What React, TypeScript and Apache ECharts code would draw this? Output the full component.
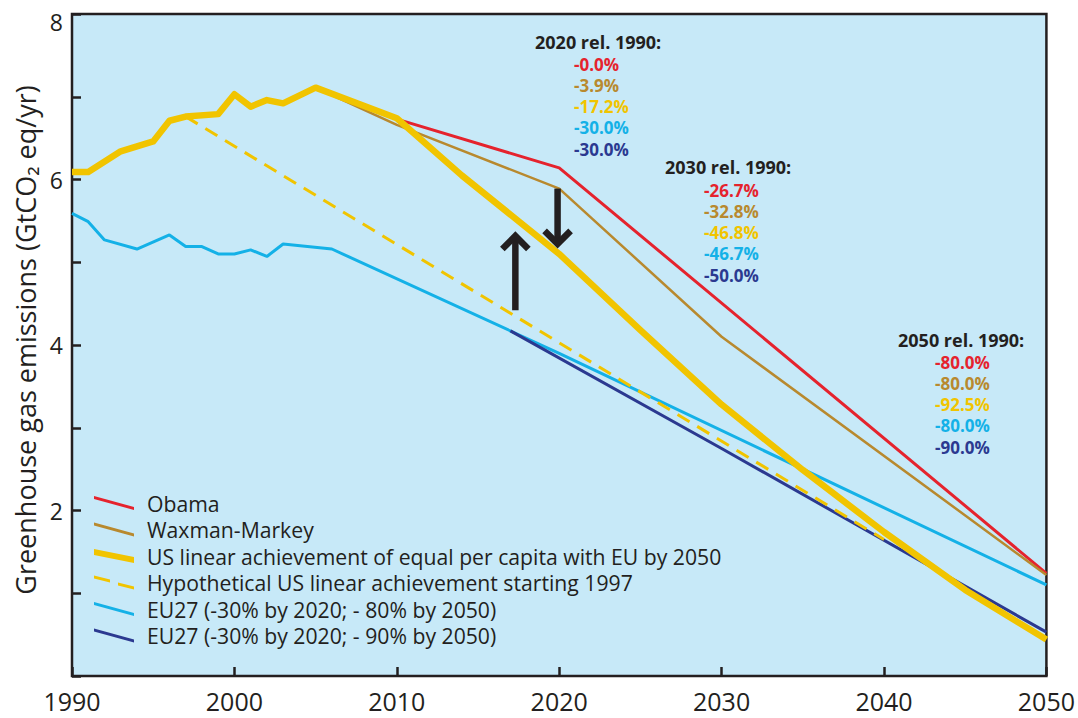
import React, { useEffect, useRef } from "react";
import * as echarts from "echarts";

// ---- data ----
const usHistYears = [1990, 1991, 1993, 1995, 1996, 1997, 1999, 2000, 2001, 2002, 2003, 2005];
const usHistValues = [6.09, 6.09, 6.34, 6.46, 6.71, 6.76, 6.79, 7.03, 6.88, 6.96, 6.92, 7.11];

const usEqualYears = [2010, 2014, 2020, 2025, 2030, 2035, 2040, 2045, 2050];
const usEqualValues = [6.74, 6.05, 5.1, 4.18, 3.28, 2.49, 1.74, 1.04, 0.44];

const obamaYears = [2005, 2010, 2020, 2050];
const obamaValues = [7.11, 6.73, 6.14, 1.24];

const waxmanYears = [2005, 2010, 2020, 2030, 2050];
const waxmanValues = [7.11, 6.66, 5.89, 4.1, 1.22];

const hypoYears = [1997, 2040];
const hypoValues = [6.76, 1.65];

const euHistYears = [1990, 1991, 1992, 1994, 1996, 1997, 1998, 1999, 2000, 2001, 2002, 2003, 2006];
const euHistValues = [5.59, 5.49, 5.27, 5.16, 5.33, 5.19, 5.19, 5.1, 5.1, 5.15, 5.07, 5.22, 5.16];

const eu80Years = [2020, 2050];
const eu80Values = [3.9, 1.1];

const eu90Years = [2017, 2030, 2050];
const eu90Values = [4.17, 2.75, 0.53];

// arrows: [year, from, to]
const arrowYears = [2017.3, 2019.9];
const arrowFrom = [4.42, 5.89];
const arrowTo = [5.33, 5.21];

const seriesNames = [
  "Obama",
  "Waxman-Markey",
  "US linear achievement of equal per capita with EU by 2050",
  "Hypothetical US linear achievement starting 1997",
  "EU27 (-30% by 2020; - 80% by 2050)",
  "EU27 (-30% by 2020; - 90% by 2050)",
];

const yAxisTitle = "Greenhouse gas emissions (GtCO\u2082 eq/yr)";
const annotationHeaders = ["2020 rel. 1990:", "2030 rel. 1990:", "2050 rel. 1990:"];
const pct2020 = ["-0.0%", "-3.9%", "-17.2%", "-30.0%", "-30.0%"];
const pct2030 = ["-26.7%", "-32.8%", "-46.8%", "-46.7%", "-50.0%"];
const pct2050 = ["-80.0%", "-80.0%", "-92.5%", "-80.0%", "-90.0%"];

const yTickLabels = [2, 4, 6, 8];

// ---- styles ----
const RED = "#e5232d";
const BROWN = "#b8892e";
const YELLOW = "#f1c400";
const LIGHTBLUE = "#14b1e7";
const DARKBLUE = "#2b3990";
const INK = "#231f20";
const BG = "#c7e9f8";
const FONT = "'Open Sans', 'Noto Sans', sans-serif";
const pctColors = [RED, BROWN, YELLOW, LIGHTBLUE, DARKBLUE];

const zip = (xs: number[], ys: number[]) => xs.map((x, i) => [x, ys[i]]);

const thinIcon = "path://M0,0 L40,11 L40,14 L0,3 Z";
const thickIcon = "path://M0,0 L40,8 L40,14 L0,6 Z";
const dashIcon = "path://M0,0 L16,4 L16,7 L0,3 Z M24,7 L40,11 L40,14 L24,10 Z";

function buildOption() {
  const blocks = [
    { hx: 535, hy: 42, vx: 574, vy: 64, vals: pct2020 },
    { hx: 665, hy: 167, vx: 704, vy: 190, vals: pct2030 },
    { hx: 898, hy: 340, vx: 935, vy: 362, vals: pct2050 },
  ];
  const graphics: any[] = [
    {
      type: "text",
      x: 25,
      y: 340,
      rotation: Math.PI / 2,
      style: {
        text: yAxisTitle,
        fill: INK,
        fontFamily: FONT,
        fontSize: 27,
        align: "center",
        verticalAlign: "middle",
      },
    },
  ];
  blocks.forEach((b, bi) => {
    graphics.push({
      type: "text",
      x: b.hx,
      y: b.hy,
      style: {
        text: annotationHeaders[bi],
        fill: INK,
        fontFamily: FONT,
        fontSize: 18,
        fontWeight: "bold",
        verticalAlign: "middle",
        align: "left",
      },
    });
    b.vals.forEach((v, i) => {
      graphics.push({
        type: "text",
        x: b.vx,
        y: b.vy + i * 21.25,
        style: {
          text: v,
          fill: pctColors[i],
          fontFamily: FONT,
          fontSize: 17,
          fontWeight: "bold",
          verticalAlign: "middle",
          align: "left",
        },
      });
    });
  });

  const lineBase = {
    type: "line",
    showSymbol: false,
    symbol: "none",
    silent: true,
    clip: true,
  };

  return {
    animation: false,
    backgroundColor: "#ffffff",
    textStyle: { fontFamily: FONT, color: INK },
    grid: {
      left: 72,
      right: 26,
      top: 14,
      bottom: 42,
      show: true,
      backgroundColor: BG,
      borderColor: INK,
      borderWidth: 2.5,
    },
    xAxis: {
      type: "value",
      min: 1990,
      max: 2050,
      interval: 10,
      axisLine: { show: false },
      axisTick: { show: true, inside: true, length: 9, lineStyle: { color: INK, width: 2.5 } },
      splitLine: { show: false },
      axisLabel: {
        color: INK,
        fontFamily: FONT,
        fontSize: 25,
        margin: 12,
        formatter: (v: number) => String(v),
      },
    },
    yAxis: {
      type: "value",
      min: 0,
      max: 8,
      interval: 1,
      axisLine: { show: false },
      axisTick: { show: true, inside: true, length: 9, lineStyle: { color: INK, width: 2.5 } },
      splitLine: { show: false },
      axisLabel: {
        color: INK,
        fontFamily: FONT,
        fontSize: 23,
        margin: 9,
        formatter: (v: number) => {
          if (yTickLabels.indexOf(v) < 0) return "";
          return v === 8 ? "{top|" + v + "}" : String(v);
        },
        rich: {
          top: { fontFamily: FONT, fontSize: 23, color: INK, padding: [16, 0, 0, 0] },
        },
      },
    },
    legend: {
      orient: "vertical",
      left: 94,
      top: 492,
      padding: 0,
      itemWidth: 40,
      itemHeight: 14,
      itemGap: 4.5,
      symbolKeepAspect: false,
      selectedMode: false,
      textStyle: {
        color: INK,
        fontFamily: FONT,
        fontSize: 21.2,
        lineHeight: 22,
        padding: [0, 0, 0, 8],
      },
      data: [
        { name: seriesNames[0], icon: thinIcon, itemStyle: { color: RED, borderWidth: 0 } },
        { name: seriesNames[1], icon: thinIcon, itemStyle: { color: BROWN, borderWidth: 0 } },
        { name: seriesNames[2], icon: thickIcon, itemStyle: { color: YELLOW, borderWidth: 0 } },
        { name: seriesNames[3], icon: dashIcon, itemStyle: { color: YELLOW, borderWidth: 0 } },
        { name: seriesNames[4], icon: thinIcon, itemStyle: { color: LIGHTBLUE, borderWidth: 0 } },
        { name: seriesNames[5], icon: thinIcon, itemStyle: { color: DARKBLUE, borderWidth: 0 } },
      ],
    },
    graphic: graphics,
    series: [
      {
        ...lineBase,
        name: seriesNames[4],
        color: LIGHTBLUE,
        lineStyle: { color: LIGHTBLUE, width: 3 },
        data: [...zip(euHistYears, euHistValues), ...zip(eu80Years, eu80Values)],
        z: 2,
      },
      {
        ...lineBase,
        name: seriesNames[5],
        color: DARKBLUE,
        lineStyle: { color: DARKBLUE, width: 3 },
        data: zip(eu90Years, eu90Values),
        z: 2,
      },
      {
        ...lineBase,
        name: seriesNames[0],
        color: RED,
        lineStyle: { color: RED, width: 3 },
        data: zip(obamaYears, obamaValues),
        z: 3,
      },
      {
        ...lineBase,
        name: seriesNames[1],
        color: BROWN,
        lineStyle: { color: BROWN, width: 2.5 },
        data: zip(waxmanYears, waxmanValues),
        z: 3,
      },
      {
        ...lineBase,
        name: seriesNames[3],
        color: YELLOW,
        lineStyle: { color: YELLOW, width: 3, type: [14, 9] },
        data: zip(hypoYears, hypoValues),
        z: 4,
      },
      {
        ...lineBase,
        name: seriesNames[2],
        color: YELLOW,
        lineStyle: { color: YELLOW, width: 6.5, join: "round" },
        data: [...zip(usHistYears, usHistValues), ...zip(usEqualYears, usEqualValues)],
        z: 5,
      },
      {
        type: "custom",
        name: "arrows",
        silent: true,
        z: 6,
        data: arrowYears.map((x, i) => [x, arrowFrom[i], arrowTo[i]]),
        encode: { x: 0, y: [1, 2] },
        renderItem: (params: any, api: any) => {
          const x = api.value(0);
          const p0 = api.coord([x, api.value(1)]);
          const p1 = api.coord([x, api.value(2)]);
          const dir = p1[1] > p0[1] ? 1 : -1;
          const style = { stroke: INK, lineWidth: 6.5, fill: "none", lineJoin: "miter", lineCap: "butt" };
          return {
            type: "group",
            children: [
              {
                type: "line",
                shape: { x1: p0[0], y1: p0[1], x2: p1[0], y2: p1[1] - dir * 3 },
                style,
              },
              {
                type: "polyline",
                shape: {
                  points: [
                    [p1[0] - 13, p1[1] - dir * 14],
                    [p1[0], p1[1] - dir * 1],
                    [p1[0] + 13, p1[1] - dir * 14],
                  ],
                },
                style,
              },
            ],
          };
        },
      },
    ],
  };
}

export default function App() {
  const ref = useRef<HTMLDivElement>(null);
  useEffect(() => {
    if (!ref.current) return;
    const chart = echarts.init(ref.current, undefined, { renderer: "svg" });
    chart.setOption(buildOption() as any);
    return () => chart.dispose();
  }, []);
  return (
    <div
      ref={ref}
      style={{ position: "absolute", left: 0, top: 0, width: 1078, height: 718, background: "#fff" }}
    />
  );
}
